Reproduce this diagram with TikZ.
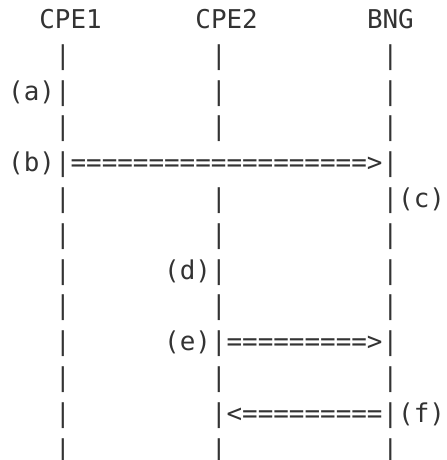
\documentclass[tikz,border=0pt]{standalone}
\usepackage{fontspec}
\setmonofont{DejaVu Sans Mono}

\begin{document}
\begin{tikzpicture}[x=15.6pt,y=35.8pt,
    ascii/.style={font=\ttfamily\fontsize{25.9}{30}\selectfont, text=black!80,
                  anchor=base west, inner sep=0pt, outer sep=0pt}]
    \useasboundingbox (-0.526,0.796) rectangle (28.064,-12.053);
    % header
    \node[ascii] (cpe1) at (2,0) {CPE1};
    \node[ascii] (cpe2) at (12,0) {CPE2};
    \node[ascii] (bng) at (23,0) {BNG};
    % lifelines
    \foreach \r in {2,...,13}
        \foreach \c in {3,24}
            \node[ascii] (p\c-\r) at (\c,{1-\r}) {|};
    \foreach \r in {2,3,4,6,7,8,9,10,11,12,13}
        \node[ascii] (p13-\r) at (13,{1-\r}) {|};
    % steps
    \node[ascii] (la) at (0,-2) {(a)};
    \node[ascii] (lb) at (0,-4) {(b)};
    \node[ascii] (mb) at (4,-4) {===================>};
    \node[ascii] (lc) at (25,-5) {(c)};
    \node[ascii] (ld) at (10,-7) {(d)};
    \node[ascii] (le) at (10,-9) {(e)};
    \node[ascii] (me) at (14,-9) {=========>};
    \node[ascii] (mf) at (14,-11) {<=========};
    \node[ascii] (lf) at (25,-11) {(f)};
\end{tikzpicture}
\end{document}
